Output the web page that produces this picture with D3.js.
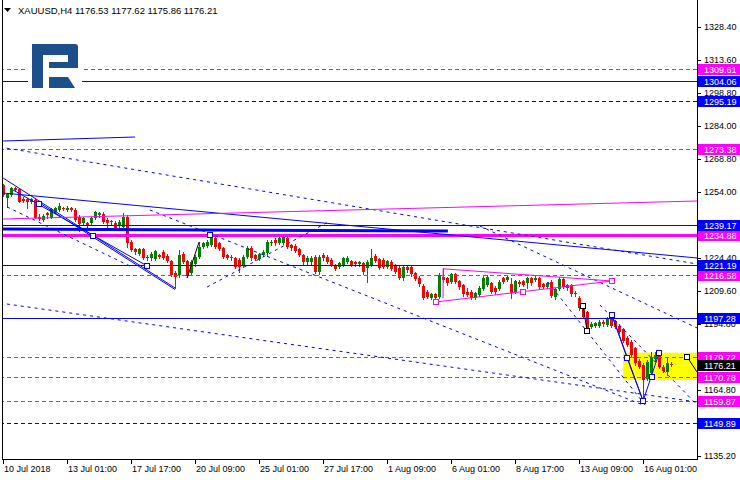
<!DOCTYPE html>
<html><head><meta charset="utf-8">
<script src="https://cdn.jsdelivr.net/npm/d3@7"></script>
<style>html,body{margin:0;padding:0;background:#fff;}svg{display:block;}</style>
</head><body>
<svg id="c" width="740" height="480"></svg>
<script>
// ---------- DATA ----------
const titleText = "XAUUSD,H4  1176.53 1177.62 1175.86 1176.21";
const opens = [1257.25,1251.55,1252.75,1256.05,1255.45,1250.95,1250.95,1249.75,1250.5,1243.0,1241.5,1244.5,1242.55,1245.25,1246.0,1247.05,1246.0,1247.05,1246.0,1243.0,1240.0,1240.0,1240.0,1242.55,1243.75,1244.05,1241.5,1241.05,1240.3,1239.25,1238.5,1243.0,1231.75,1228.45,1226.35,1228.45,1225.0,1224.25,1223.95,1225.75,1227.25,1225.3,1223.05,1217.5,1216.75,1226.05,1223.05,1217.5,1221.55,1225.0,1229.5,1229.95,1230.25,1233.55,1231.0,1228.75,1225.75,1225.0,1224.25,1223.5,1220.95,1225.0,1229.05,1225.75,1223.95,1225.75,1226.5,1231.0,1232.5,1231.0,1231.0,1233.25,1230.25,1229.95,1228.45,1225.75,1222.45,1222.45,1225.0,1218.25,1225.75,1225.0,1223.5,1221.25,1220.5,1221.25,1222.73,1223.03,1222.43,1221.53,1221.98,1219.73,1221.23,1225.43,1223.93,1223.48,1220.48,1222.73,1221.23,1220.03,1215.23,1220.48,1220.33,1217.48,1215.53,1211.93,1209.23,1206.53,1208.03,1206.98,1215.98,1215.23,1213.73,1217.03,1214.03,1212.23,1208.93,1209.23,1206.53,1207.73,1210.43,1212.23,1212.98,1211.03,1210.43,1215.23,1214.48,1212.53,1209.23,1213.73,1214.03,1212.98,1215.23,1214.48,1215.23,1212.53,1211.48,1213.73,1206.98,1210.43,1214.93,1212.23,1212.23,1208.03,1206.53,1203.23,1199.93,1193.48,1193.93,1193.93,1195.43,1194.23,1197.98,1196.03,1193.93,1192.43,1188.53,1186.73,1183.73,1178.03,1176.23,1169.93,1172.48,1178.93,1180.43,1175.48,1173.23,1176.53];
const highs = [1257.55,1253.5,1256.5,1256.5,1256.05,1252.0,1251.55,1251.55,1251.25,1244.05,1244.05,1245.25,1246.75,1247.5,1249.0,1247.5,1247.65,1247.5,1246.75,1243.75,1243.0,1240.75,1243.0,1245.55,1245.25,1244.95,1242.25,1241.65,1241.05,1241.5,1244.8,1243.75,1232.5,1229.05,1229.05,1229.05,1225.75,1226.95,1228.15,1226.35,1227.85,1226.05,1223.65,1218.55,1228.0,1226.95,1223.65,1223.5,1225.75,1231.75,1231.75,1232.35,1234.75,1234.15,1231.75,1229.5,1226.35,1225.75,1225.0,1224.25,1225.75,1229.65,1229.65,1226.35,1226.65,1227.85,1232.35,1232.35,1233.25,1233.85,1234.45,1234.0,1230.85,1230.55,1229.05,1226.35,1225.15,1225.15,1225.75,1225.75,1226.5,1225.75,1224.25,1221.85,1222.75,1224.85,1225.13,1223.63,1223.03,1223.03,1222.73,1223.33,1228.43,1226.03,1224.53,1224.23,1223.63,1223.33,1221.83,1220.63,1221.23,1221.23,1220.93,1218.23,1216.13,1212.53,1209.83,1208.63,1208.63,1217.48,1219.73,1215.83,1217.63,1217.63,1214.63,1212.83,1210.73,1209.83,1209.23,1211.63,1216.13,1216.73,1213.73,1211.63,1214.33,1215.83,1216.58,1215.23,1214.63,1214.33,1214.63,1215.83,1215.83,1216.13,1215.83,1213.13,1213.58,1214.33,1211.03,1215.83,1215.53,1212.83,1212.83,1209.53,1207.13,1203.83,1200.53,1195.43,1195.73,1196.33,1196.33,1197.83,1198.73,1196.63,1194.53,1193.03,1189.13,1187.33,1184.33,1178.93,1177.13,1178.33,1181.93,1181.93,1181.03,1176.23,1179.23,1177.62];
const lows = [1252.45,1247.2,1252.45,1254.7,1249.45,1249.45,1247.05,1249.15,1242.25,1241.35,1241.05,1242.25,1242.25,1244.5,1245.55,1245.85,1245.55,1245.55,1241.05,1236.55,1239.25,1238.5,1239.55,1241.95,1243.0,1240.3,1238.05,1239.55,1237.45,1238.5,1238.05,1229.5,1227.55,1226.35,1225.75,1223.95,1223.5,1223.65,1223.35,1224.25,1223.95,1222.45,1216.15,1210.75,1216.0,1222.15,1215.85,1216.75,1220.95,1224.25,1228.75,1229.35,1229.65,1229.05,1227.85,1224.25,1223.95,1223.65,1219.75,1218.25,1220.35,1224.25,1223.65,1223.35,1223.35,1225.15,1225.75,1230.25,1230.25,1230.55,1230.55,1229.05,1228.15,1226.95,1225.15,1221.85,1221.85,1221.85,1217.65,1217.35,1223.65,1222.15,1220.65,1218.85,1219.75,1220.65,1222.13,1220.63,1220.93,1220.93,1217.33,1213.73,1220.63,1222.43,1219.43,1219.73,1220.03,1218.83,1217.63,1214.93,1214.63,1218.23,1216.43,1214.33,1211.93,1205.93,1206.23,1205.93,1205.63,1206.23,1213.73,1212.23,1213.13,1213.13,1210.58,1207.43,1207.13,1205.93,1205.93,1207.13,1209.83,1211.63,1208.63,1208.33,1209.83,1213.13,1213.88,1206.23,1208.63,1211.93,1211.63,1210.73,1212.38,1213.88,1210.88,1210.88,1210.88,1206.83,1205.93,1209.83,1210.88,1210.13,1207.43,1207.13,1201.13,1197.23,1192.43,1192.73,1193.33,1193.33,1193.93,1193.63,1193.33,1192.88,1190.63,1186.43,1184.63,1180.13,1176.23,1174.73,1159.87,1169.33,1171.73,1178.03,1174.73,1172.93,1171.73,1175.86];
const closes = [1252.75,1253.05,1256.05,1255.15,1249.75,1250.05,1249.75,1250.95,1242.55,1241.95,1243.45,1243.75,1246.3,1246.75,1247.95,1246.45,1247.05,1246.15,1241.5,1239.55,1242.25,1239.25,1242.55,1244.95,1244.5,1240.75,1240.0,1240.45,1238.05,1240.75,1243.0,1231.0,1228.0,1226.95,1228.45,1224.55,1224.25,1226.05,1227.55,1224.85,1224.55,1223.05,1216.75,1216.0,1225.75,1222.75,1216.45,1222.75,1225.0,1229.5,1231.0,1231.75,1234.0,1229.5,1228.45,1225.0,1224.55,1224.25,1220.5,1220.5,1225.0,1229.05,1224.25,1223.95,1226.05,1227.25,1231.75,1231.75,1231.0,1233.25,1234.0,1229.5,1228.75,1227.55,1225.75,1222.45,1224.55,1224.55,1218.25,1225.0,1224.25,1222.75,1221.25,1219.45,1222.0,1224.25,1224.53,1221.23,1221.53,1222.43,1217.93,1222.73,1224.53,1223.03,1220.03,1220.48,1223.03,1219.43,1218.23,1215.53,1220.48,1218.98,1217.03,1214.93,1212.53,1206.53,1206.98,1208.03,1206.23,1216.73,1214.48,1212.98,1217.03,1213.73,1211.18,1208.03,1207.73,1206.53,1208.48,1211.03,1215.53,1215.98,1209.23,1208.93,1213.73,1213.73,1215.98,1208.48,1214.03,1212.53,1212.23,1215.23,1212.98,1215.53,1211.48,1211.48,1212.98,1207.43,1210.43,1214.93,1211.48,1210.73,1208.03,1208.78,1201.73,1197.98,1193.03,1194.53,1194.98,1195.73,1194.53,1197.23,1193.93,1193.48,1191.23,1187.03,1185.23,1180.73,1176.98,1175.48,1169.48,1177.73,1179.98,1180.73,1175.48,1173.53,1176.98,1176.21];

const timeLabels = ["10 Jul 2018","13 Jul 01:00","17 Jul 17:00","20 Jul 09:00","25 Jul 01:00","27 Jul 17:00","1 Aug 09:00","6 Aug 01:00","8 Aug 17:00","13 Aug 09:00","16 Aug 01:00"];
const timeLabelBars = [0,16,32,48,64,80,96,112,128,144,160];
const priceTicks = [1328.40,1313.60,1298.80,1284.00,1268.80,1254.00,1239.20,1224.40,1209.60,1194.80,1180.00,1164.80,1150.00,1135.20];

const magentaDashedLevels = [1309.61,1273.38,1216.58,1179.72,1170.78,1159.87];
const blueSolidLevels = [1304.06,1239.17,1221.19,1197.28];
const blueDashedLevels = [1295.19,1149.89];
const magentaThickLevels = [1234.88];
const currentPrice = 1176.21;

// trend lines: [bar1, price1, bar2, price2]
const blueSolidTrends = [[-0.1,1277.06,32.9,1278.86],[-0.1,1253.64,173.4,1224.37],[-0.1,1260.4,42.9,1210.86],[9.1,1249.05,42.9,1210.19],[2.4,1255.0,35.9,1220.8]];
const blueThickTrends = [[-0.9,1237.43,111.1,1236.53]];
const magentaSolidTrends = [[-0.1,1241.93,173.4,1250.04]];
const blueDashedTrends = [[-0.9,1274.36,173.4,1221.67],[0.9,1247.34,31.6,1220.77],[-0.9,1204.1,173.4,1159.5],[36.6,1245.99,159.9,1158.17],[119.1,1238.78,173.4,1192.85],[136.1,1213.56,160.4,1158.17],[149.1,1203.2,173.4,1158.2],[50.9,1211.3,81.6,1241.0]];
const triangleMagenta = [[109.9,1219.5,152.1,1214.01],[108.1,1204.55,152.1,1214.01],[109.9,1219.5,109.9,1206.2]];
const bluePattern = [[152.1,1198.7,155.9,1179.34],[152.1,1198.7,159.9,1159.97],[155.9,1179.34,159.9,1159.97],[159.9,1159.97,163.9,1181.59]];
const blackSegments = [[45.9,1215.36,48.9,1231.58],[144.9,1202.75,145.9,1191.49],[170.9,1179.79,173.4,1173.0]];
const blueSquares = [[8.9,1248.69],[22.4,1234.28],[35.9,1220.77],[51.6,1234.73],[152.1,1198.7],[155.9,1179.34],[159.9,1159.97],[162.1,1170.78],[163.9,1181.59]];
const magentaSquares = [[108.1,1204.55],[129.9,1209.06],[152.1,1214.01]];
const blackSquares = [[144.9,1202.75],[145.9,1191.49],[170.9,1179.79]];
const zoneBars = [154.9,176];
const zonePrices = [1181.7,1169.4];

// ---------- DRAW ----------
const svg = d3.select("#c");
const FONT = "'Liberation Sans', Arial, sans-serif";
const BLUE = "#0000ff", MAG = "#ff00ff", GREEN = "#008000", RED = "#ff0000";
const x = d3.scaleLinear().domain([0,173.5]).range([3.5,697.5]);
const y = d3.scaleLinear().domain([1135.20,1328.40]).range([456,27]);
const py = p => Math.round(y(p)) + 0.5;

svg.append("rect").attr("width",740).attr("height",480).attr("fill","#fff");
svg.append("defs").append("clipPath").attr("id","plot").append("rect").attr("x",3).attr("y",0).attr("width",694).attr("height",459);
const g = svg.append("g").attr("clip-path","url(#plot)");

// zone
g.append("rect").attr("x",x(zoneBars[0])).attr("y",y(zonePrices[0]))
  .attr("width",x(zoneBars[1])-x(zoneBars[0])).attr("height",y(zonePrices[1])-y(zonePrices[0])).attr("fill","#ffff00");
g.append("line").attr("x1",0).attr("x2",697).attr("y1",py(currentPrice)).attr("y2",py(currentPrice)).attr("stroke","#fff");

// candles
const idx = d3.range(opens.length);
const cg = g.append("g").attr("shape-rendering","crispEdges");
cg.selectAll("line.w").data(idx).join("line").attr("class","w")
  .attr("x1",i=>x(i)).attr("x2",i=>x(i)).attr("y1",i=>Math.round(y(highs[i]))).attr("y2",i=>Math.round(y(lows[i]))+1)
  .attr("stroke",i=>closes[i]>=opens[i]?GREEN:RED);
cg.selectAll("rect.b").data(idx).join("rect").attr("class","b")
  .attr("x",i=>x(i)-1.5).attr("width",3)
  .attr("y",i=>Math.round(y(Math.max(opens[i],closes[i]))))
  .attr("height",i=>Math.max(1,Math.round(y(Math.min(opens[i],closes[i])))-Math.round(y(Math.max(opens[i],closes[i])))))
  .attr("fill",i=>closes[i]>=opens[i]?GREEN:RED);

// horizontal levels
function hl(arr, color, width, dash){
  g.selectAll(null).data(arr).join("line").attr("x1",0).attr("x2",697)
   .attr("y1",d=>py(d)).attr("y2",d=>py(d)).attr("stroke",color).attr("stroke-width",width)
   .attr("stroke-dasharray",dash||null).attr("shape-rendering","crispEdges");
}
hl(magentaDashedLevels, MAG, 1, "4,3");
hl(blueDashedLevels, BLUE, 1, "4,3");
hl(blueSolidLevels, BLUE, 1);
hl(magentaThickLevels, MAG, 3);

function tl(arr, color, width, dash){
  g.selectAll(null).data(arr).join("line")
   .attr("x1",d=>x(d[0])).attr("y1",d=>y(d[1])).attr("x2",d=>x(d[2])).attr("y2",d=>y(d[3]))
   .attr("stroke",color).attr("stroke-width",width).attr("stroke-dasharray",dash||null);
}
tl(blueDashedTrends, BLUE, 1, "3,4");
tl(blueSolidTrends, BLUE, 1);
tl(blueThickTrends, BLUE, 3);
tl(magentaSolidTrends, MAG, 1);
tl(triangleMagenta, MAG, 1);
tl(bluePattern, BLUE, 1);
tl(blackSegments, "#000", 1);

function sq(arr, color){
  g.selectAll(null).data(arr).join("rect")
   .attr("x",d=>Math.round(x(d[0]))-2.5).attr("y",d=>Math.round(y(d[1]))-2.5).attr("width",5).attr("height",5)
   .attr("fill","#fff").attr("stroke",color).attr("stroke-width",1);
}
sq(blueSquares, BLUE); sq(magentaSquares, MAG); sq(blackSquares, "#000");

// logo
const lg = svg.append("g");
lg.append("rect").attr("x",28).attr("y",39).attr("width",54).attr("height",53).attr("fill","#fff");
const LC = "#1d4f8c";
lg.append("path").attr("fill",LC).attr("d","M32,44 H75 Q78,44 78,47 V68 H49 V62 H68 V55 H43 V88 H32 Z");
lg.append("path").attr("fill",LC).attr("d","M49,77 H68 L75,88 H49 Z");

// frame
const fr = svg.append("g").attr("stroke","#000").attr("shape-rendering","crispEdges");
fr.append("line").attr("x1",2.5).attr("x2",2.5).attr("y1",0).attr("y2",460);
fr.append("line").attr("x1",697.5).attr("x2",697.5).attr("y1",0).attr("y2",460);
fr.append("line").attr("x1",2).attr("x2",698).attr("y1",459.5).attr("y2",459.5);

const allBoxLevels = magentaDashedLevels.concat(magentaThickLevels, blueSolidLevels, blueDashedLevels, [currentPrice]);
const covered = t => allBoxLevels.some(b => Math.abs(y(b) - y(t)) < 4);

// price axis
const pa = svg.append("g");
pa.selectAll("line").data(priceTicks).join("line").attr("x1",697).attr("x2",701)
  .attr("y1",d=>py(d)).attr("y2",d=>py(d)).attr("stroke","#000").attr("shape-rendering","crispEdges");
pa.selectAll("text").data(priceTicks.filter(t=>!covered(t))).join("text").attr("x",704).attr("y",d=>y(d)).attr("dy","0.35em")
  .attr("font-family",FONT).attr("font-size",9).attr("fill","#000").text(d=>d.toFixed(2));

// time axis
const ta = svg.append("g");
ta.selectAll("line").data(timeLabelBars).join("line").attr("x1",d=>x(d)-0.2).attr("x2",d=>x(d)-0.2)
  .attr("y1",459).attr("y2",464).attr("stroke","#000").attr("shape-rendering","crispEdges");
ta.selectAll("text").data(timeLabels).join("text").attr("x",(d,i)=>x(timeLabelBars[i])+0.5).attr("y",472)
  .attr("font-family",FONT).attr("font-size",9).attr("fill","#000").text(d=>d);

function box(arr, color){
  const b = svg.append("g");
  b.selectAll("rect").data(arr).join("rect").attr("x",698).attr("y",d=>Math.round(y(d))-5).attr("width",42).attr("height",11).attr("fill",color);
  b.selectAll("text").data(arr).join("text").attr("x",704).attr("y",d=>Math.round(y(d))+0.5).attr("dy","0.35em")
   .attr("font-family",FONT).attr("font-size",9).attr("fill","#fff").text(d=>d.toFixed(2));
}
box(magentaDashedLevels.concat(magentaThickLevels), MAG);
box(blueSolidLevels.concat(blueDashedLevels), BLUE);
box([currentPrice], "#000");

// title
svg.append("path").attr("d","M4,8 H11 L7.5,12 Z").attr("fill","#000");
svg.append("text").attr("x",18).attr("y",14).attr("font-family",FONT).attr("font-size",9.5).attr("fill","#000").text(titleText);
</script>
</body></html>
